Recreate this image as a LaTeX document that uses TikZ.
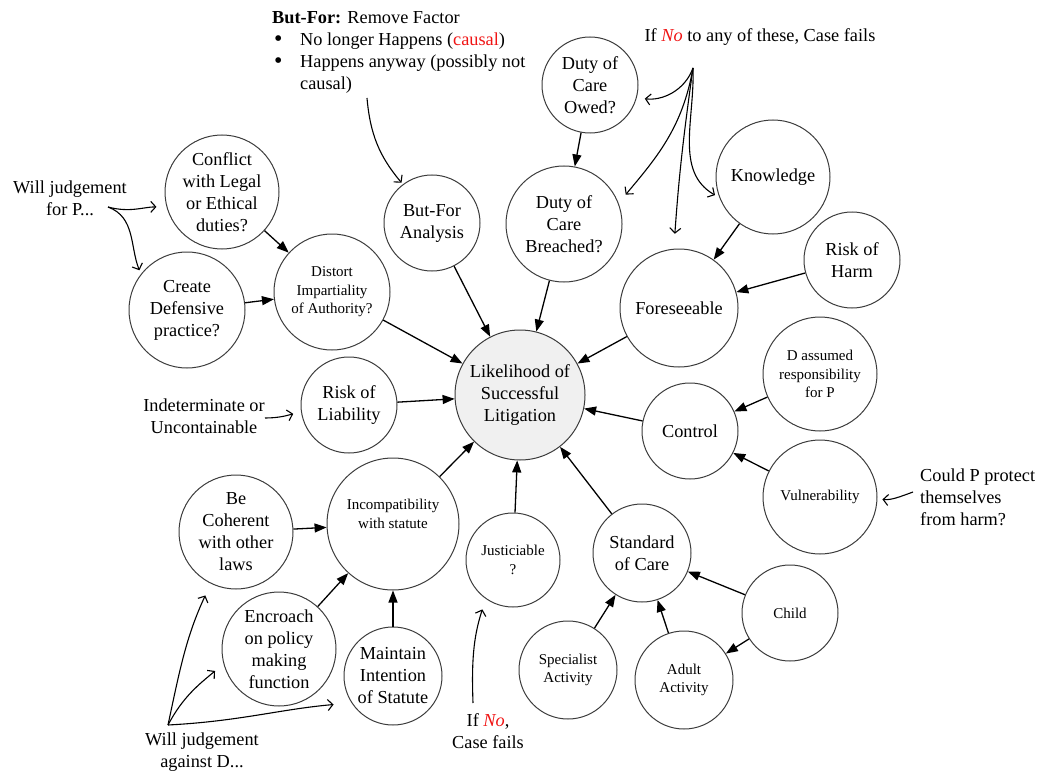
\documentclass[tikz,border=0pt]{standalone}
\usepackage{fontspec}
\setmainfont{Liberation Serif}
\usetikzlibrary{arrows.meta}
\newcommand\fA{\fontsize{18.3}{22}\selectfont}
\newcommand\fB{\fontsize{15}{18.5}\selectfont}
\newcommand\bigbul{\raisebox{-0.5pt}{\fontsize{24}{22}\selectfont\textbullet}}
\definecolor{nored}{RGB}{240,20,20}
\definecolor{circ}{RGB}{60,60,60}
\tikzset{
  bub/.style={circle, draw=circ, line width=1pt, inner sep=0pt, align=center, minimum size=#1, font=\fA},
  sbub/.style={bub=#1, font=\fB},
  arr/.style={-{Triangle[length=12pt,width=9pt]}, line width=1.3pt},
  ann/.style={-{Straight Barb[length=5pt,width=11pt]}, line width=1.1pt},
  lab/.style={align=center, font=\fA, inner sep=0pt},
}
\begin{document}
\begin{tikzpicture}[x=1pt,y=-1pt]
\useasboundingbox (0,0) rectangle (1039,773);

% central node
\node[bub=130pt, fill=black!6] (lik) at (520,395) {Likelihood of\\Successful\\Litigation};

% upper nodes
\node[bub=96pt] (bfa) at (432,223) {But-For\\Analysis};
\node[bub=96pt] (owed) at (590,85) {Duty of\\Care\\Owed?};
\node[bub=116pt] (breach) at (564,224) {Duty of\\Care\\Breached?};
\node[bub=114pt] (know) at (773,177) {Knowledge};
\node[bub=96pt] (harm) at (852,260) {Risk of\\Harm};
\node[bub=118pt] (fore) at (679,308) {Foreseeable};
\node[sbub=114pt] (dass) at (820,374) {D assumed\\responsibility\\for P};
\node[bub=96pt] (ctrl) at (690,431) {Control};
\node[sbub=114pt] (vuln) at (820,497) {Vulnerability};
\node[bub=98pt] (soc) at (642,553) {Standard\\of Care};
\node[sbub=96pt] (child) at (790,613) {Child};
\node[sbub=98pt] (adult) at (684,680) {Adult\\Activity};
\node[sbub=98pt] (spec) at (568,670) {Specialist\\Activity};
\node[sbub=94pt] (just) at (513,560) {Justiciable\\?};

% left nodes
\node[sbub=132pt] (incomp) at (393,524) {Incompatibility\\with statute\\[2pt]};
\node[bub=114pt] (coher) at (236,532) {Be\\Coherent\\with other\\laws};
\node[bub=114pt] (encr) at (279,649) {Encroach\\on policy\\making\\function};
\node[bub=98pt] (maint) at (393,676) {Maintain\\Intention\\of Statute};
\node[bub=96pt] (rol) at (349,405) {Risk of\\Liability};
\node[sbub=116pt] (dist) at (332,292) {Distort\\Impartiality\\of Authority?};
\node[bub=114pt] (confl) at (222,192) {Conflict\\with Legal\\or Ethical\\duties?};
\node[bub=116pt] (defen) at (187,310) {Create\\Defensive\\practice?};

% text labels
\node[anchor=north west, inner sep=0pt, font=\fA] (bftext) at (272,8) {%
\begin{tabular}{@{}p{28pt}@{}p{250pt}@{}}
\multicolumn{2}{@{}l}{\textbf{But-For:} Remove Factor}\\
\hspace{2pt}\bigbul & No longer Happens (\textcolor{nored}{causal})\\
\hspace{2pt}\bigbul & Happens anyway (possibly not\newline causal)
\end{tabular}};
\node[lab] (ifnotop) at (760,37) {If \textcolor{nored}{\itshape No} to any of these, Case fails};
\node[lab] (forp) at (70,198) {Will judgement\\for P...};
\node[lab] (indet) at (204,416) {Indeterminate or\\Uncontainable};
\node[lab, align=left, anchor=west] (couldp) at (920,497) {Could P protect\\themselves\\from harm?};
\node[lab] (againstd) at (202,752) {Will judgement\\against D...};
\node[lab] (ifnobot) at (488,731) {If \textcolor{nored}{\itshape No},\\Case fails};

% annotation origins
\coordinate (bfsrc) at (367,98);
\coordinate (nosrc) at (693,68);
\coordinate (psrc) at (108,207);
\coordinate (indsrc) at (265,418);
\coordinate (cpsrc) at (913,492);
\coordinate (dsrc) at (168,725);
\coordinate (jsrc) at (473,703);

% main arrows
\draw[arr] (breach) -- (lik);
\draw[arr] (bfa) -- (lik);
\draw[arr] (dist) -- (lik);
\draw[arr] (rol) -- (lik);
\draw[arr] (incomp) -- (lik);
\draw[arr] (just) -- (lik);
\draw[arr] (soc) -- (lik);
\draw[arr] (ctrl) -- (lik);
\draw[arr] (fore) -- (lik);
\draw[arr] (owed) -- (breach);
\draw[arr] (know) -- (fore);
\draw[arr] (harm) -- (fore);
\draw[arr] (dass) -- (ctrl);
\draw[arr] (vuln) -- (ctrl);
\draw[arr] (child) -- (soc);
\draw[arr] (child) -- (adult);
\draw[arr] (adult) -- (soc);
\draw[arr] (spec) -- (soc);
\draw[arr] (confl) -- (dist);
\draw[arr] (defen) -- (dist);
\draw[arr] (coher) -- (incomp);
\draw[arr] (encr) -- (incomp);
\draw[arr] (maint) -- (incomp);

% annotation arrows
\draw[ann, shorten >=2pt] (bfsrc) to[out=-85, in=130] (bfa.127);
\draw[ann, shorten >=8pt] (nosrc) to[out=-110, in=-8] (owed.-15);
\draw[ann, shorten >=11pt] (nosrc) to[out=-100, in=50] (breach.21);
\draw[ann, shorten >=15pt] (nosrc) to[out=-98, in=86] (fore.95);
\draw[ann, shorten >=5pt] (nosrc) to[out=-88, in=150] (know.201);
\draw[ann, shorten >=10pt] (psrc) to[out=-15, in=180] (confl.195);
\draw[ann, shorten >=4pt] (psrc) to[out=-20, in=112] (defen.142);
\draw[ann, shorten >=8pt] (indsrc) to[out=0, in=195] (rol.188);
\draw[ann, shorten >=5pt] (cpsrc) to[out=200, in=-5] (vuln.-2);
\draw[ann, shorten >=13pt] (dsrc) to[out=78, in=-115] (coher.244);
\draw[ann, shorten >=11pt] (dsrc) to[out=62, in=-140] (encr.195);
\draw[ann, shorten >=18pt] (dsrc) to[out=3, in=185] (maint.213);
\draw[ann, shorten >=11pt] (jsrc) to[out=92, in=-108] (just.235);
\end{tikzpicture}
\end{document}
